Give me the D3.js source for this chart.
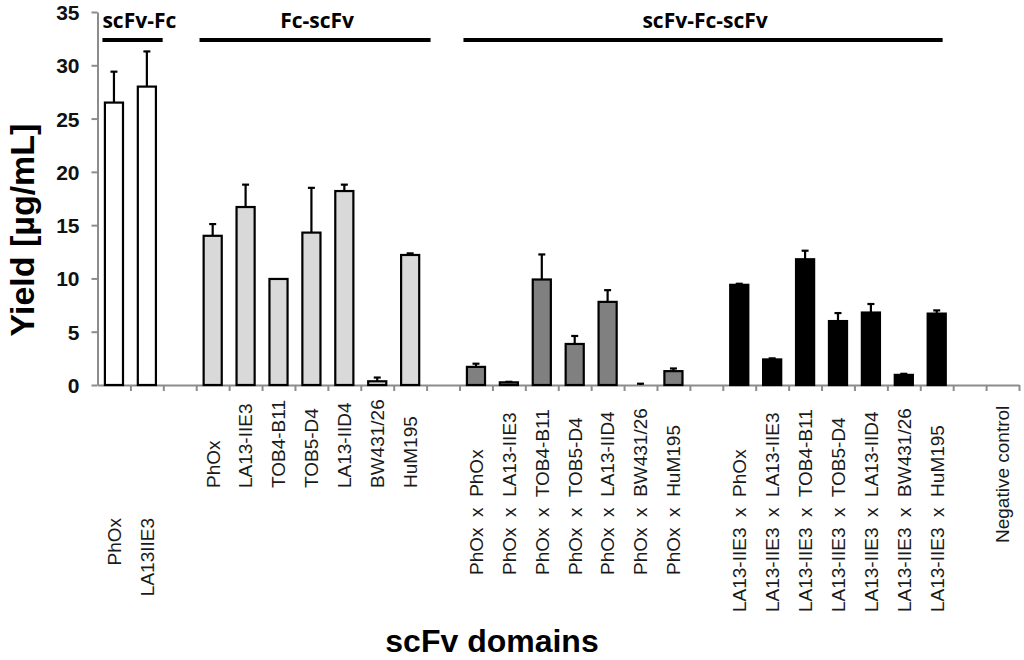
<!DOCTYPE html>
<html>
<head>
<meta charset="utf-8">
<script src="https://cdn.jsdelivr.net/npm/d3@7"></script>
<style>
  html, body { margin: 0; padding: 0; background: #fff; }
  svg { display: block; }
</style>
</head>
<body>
<svg id="chart" width="1024" height="660"></svg>
<script>
// ---------------- data ----------------
const scfvFcLabels = ["PhOx", "LA13IIE3"];
const scfvFcValues = [26.5, 28.0];
const scfvFcErrors = [2.9, 3.3];

const fcScfvLabels = ["PhOx", "LA13-IIE3", "TOB4-B11", "TOB5-D4", "LA13-IID4", "BW431/26", "HuM195"];
const fcScfvValues = [14.0, 16.7, 9.95, 14.3, 18.2, 0.35, 12.2];
const fcScfvErrors = [1.1, 2.1, 0, 4.2, 0.6, 0.35, 0.15];

const phoxLabels = ["PhOx  x  PhOx", "PhOx  x  LA13-IIE3", "PhOx  x  TOB4-B11", "PhOx  x  TOB5-D4",
                    "PhOx  x  LA13-IID4", "PhOx  x  BW431/26", "PhOx  x  HuM195"];
const phoxValues = [1.7, 0.25, 9.9, 3.85, 7.8, 0, 1.3];
const phoxErrors = [0.3, 0.05, 2.35, 0.75, 1.1, 0.12, 0.25];

const la13Labels = ["LA13-IIE3  x  PhOx", "LA13-IIE3  x  LA13-IIE3", "LA13-IIE3  x  TOB4-B11", "LA13-IIE3  x  TOB5-D4",
                    "LA13-IIE3  x  LA13-IID4", "LA13-IIE3  x  BW431/26", "LA13-IIE3  x  HuM195"];
const la13Values = [9.4, 2.4, 11.8, 6.0, 6.8, 0.95, 6.7];
const la13Errors = [0.1, 0.1, 0.8, 0.75, 0.8, 0.1, 0.3];

const controlLabels = ["Negative control"];
const controlValues = [0];
const controlErrors = [0];

const yTicks = [0, 5, 10, 15, 20, 25, 30, 35];
const groupTitles = ["scFv-Fc", "Fc-scFv", "scFv-Fc-scFv"];
const groupSpans = [[0.15, 1.98], [3.1, 10.12], [11.12, 25.68]]; // in category units
const yTitle = "Yield [µg/mL]";
const xTitle = "scFv domains";

// ---------------- layout / styles ----------------
const groups = [
  { labels: scfvFcLabels, values: scfvFcValues, errors: scfvFcErrors, fill: "#ffffff", anchor: "end", ly: 518 },
  { labels: fcScfvLabels, values: fcScfvValues, errors: fcScfvErrors, fill: "#d9d9d9", anchor: "start", ly: 488 },
  { labels: phoxLabels, values: phoxValues, errors: phoxErrors, fill: "#808080", anchor: "start", ly: 575 },
  { labels: la13Labels, values: la13Values, errors: la13Errors, fill: "#000000", anchor: "start", ly: 612 },
  { labels: controlLabels, values: controlValues, errors: controlErrors, fill: "#000000", anchor: "start", ly: 543 }
];

// Build category rows; one empty slot between consecutive groups
const rows = [];
groups.forEach((g, gi) => {
  if (gi > 0) rows.push(null);
  g.labels.forEach((lab, i) => rows.push({ label: lab, value: g.values[i], err: g.errors[i], group: g, idx: 0 }));
});
rows.forEach((r, i) => { if (r) r.idx = i; });
const nCat = rows.length; // 28

const svg = d3.select("#chart");
const x0 = 97.5, x1 = 1019, yBase = 385, yTop = 12;

const xu = d3.scaleLinear().domain([0, nCat]).range([x0, x1]);
const xb = d3.scaleBand().domain(d3.range(nCat)).range([x0, x1]).paddingInner(0.45).paddingOuter(0.225);
const y = d3.scaleLinear().domain([0, 35]).range([yBase, yTop]);

const axisGray = "#8c8c8c";

// Y axis
const yAxis = svg.append("g").attr("transform", `translate(${x0},0)`)
  .call(d3.axisLeft(y).tickValues(yTicks).tickSize(6).tickPadding(12).tickSizeOuter(0));
yAxis.select(".domain").attr("stroke", axisGray).attr("stroke-width", 2);
yAxis.selectAll(".tick line").attr("stroke", axisGray).attr("stroke-width", 2);
yAxis.selectAll(".tick text").attr("fill", "#111").attr("font-family", "Liberation Sans, Arial, sans-serif")
  .attr("font-weight", "bold").attr("font-size", 21).attr("dy", "0.36em");

// X axis (ticks at category boundaries)
const xAxis = svg.append("g").attr("transform", `translate(0,${yBase})`)
  .call(d3.axisBottom(xu).tickValues(d3.range(1, nCat + 1)).tickSize(6).tickFormat("").tickSizeOuter(0));
xAxis.select(".domain").attr("stroke", axisGray).attr("stroke-width", 2);
xAxis.selectAll(".tick line").attr("stroke", axisGray).attr("stroke-width", 2);

// Bars
const data = rows.filter(r => r);
svg.append("g").selectAll("rect").data(data.filter(d => d.value > 0)).join("rect")
  .attr("x", d => xb(d.idx))
  .attr("width", xb.bandwidth())
  .attr("y", d => y(d.value))
  .attr("height", d => yBase - y(d.value))
  .attr("fill", d => d.group.fill)
  .attr("stroke", "#000")
  .attr("stroke-width", 2.2);

// Error bars (upper only)
const eg = svg.append("g").attr("stroke", "#000").attr("stroke-width", 2.2);
data.filter(d => d.err > 0).forEach(d => {
  const cx = xb(d.idx) + xb.bandwidth() / 2;
  eg.append("line").attr("x1", cx).attr("x2", cx).attr("y1", y(d.value)).attr("y2", y(d.value + d.err));
  eg.append("line").attr("x1", cx - 3.5).attr("x2", cx + 3.5).attr("y1", y(d.value + d.err)).attr("y2", y(d.value + d.err));
});

// Category labels (rotated)
svg.append("g").selectAll("text").data(data).join("text")
  .attr("transform", d => `translate(${xb(d.idx) + xb.bandwidth() / 2},${d.group.ly}) rotate(-90)`)
  .attr("text-anchor", d => d.group.anchor)
  .attr("dy", "0.36em")
  .attr("xml:space", "preserve")
  .style("white-space", "pre")
  .attr("font-family", "Liberation Sans, Arial, sans-serif")
  .attr("font-size", 19)
  .attr("fill", "#1a1a1a")
  .text(d => d.label);

// Group brackets and titles
const gt = svg.append("g");
groupTitles.forEach((t, i) => {
  const [a, b] = groupSpans[i];
  gt.append("line").attr("x1", xu(a)).attr("x2", xu(b)).attr("y1", 40).attr("y2", 40)
    .attr("stroke", "#000").attr("stroke-width", 4);
  const first = i === 0;
  gt.append("text")
    .attr("x", first ? xu(a) : (xu(a) + xu(b)) / 2 + 2)
    .attr("y", 28)
    .attr("text-anchor", first ? "start" : "middle")
    .attr("font-family", "Open Sans, sans-serif")
    .attr("font-weight", 700)
    .attr("font-size", 21)
    .attr("fill", "#000")
    .text(t);
});

// Axis titles
svg.append("text")
  .attr("transform", `translate(34,230) rotate(-90)`)
  .attr("text-anchor", "middle")
  .attr("font-family", "Liberation Sans, Arial, sans-serif")
  .attr("font-weight", "bold")
  .attr("font-size", 34)
  .attr("fill", "#000")
  .text(yTitle);

svg.append("text")
  .attr("x", 492).attr("y", 652)
  .attr("text-anchor", "middle")
  .attr("font-family", "Liberation Sans, Arial, sans-serif")
  .attr("font-weight", "bold")
  .attr("font-size", 32)
  .attr("fill", "#000")
  .text(xTitle);
</script>
</body>
</html>
